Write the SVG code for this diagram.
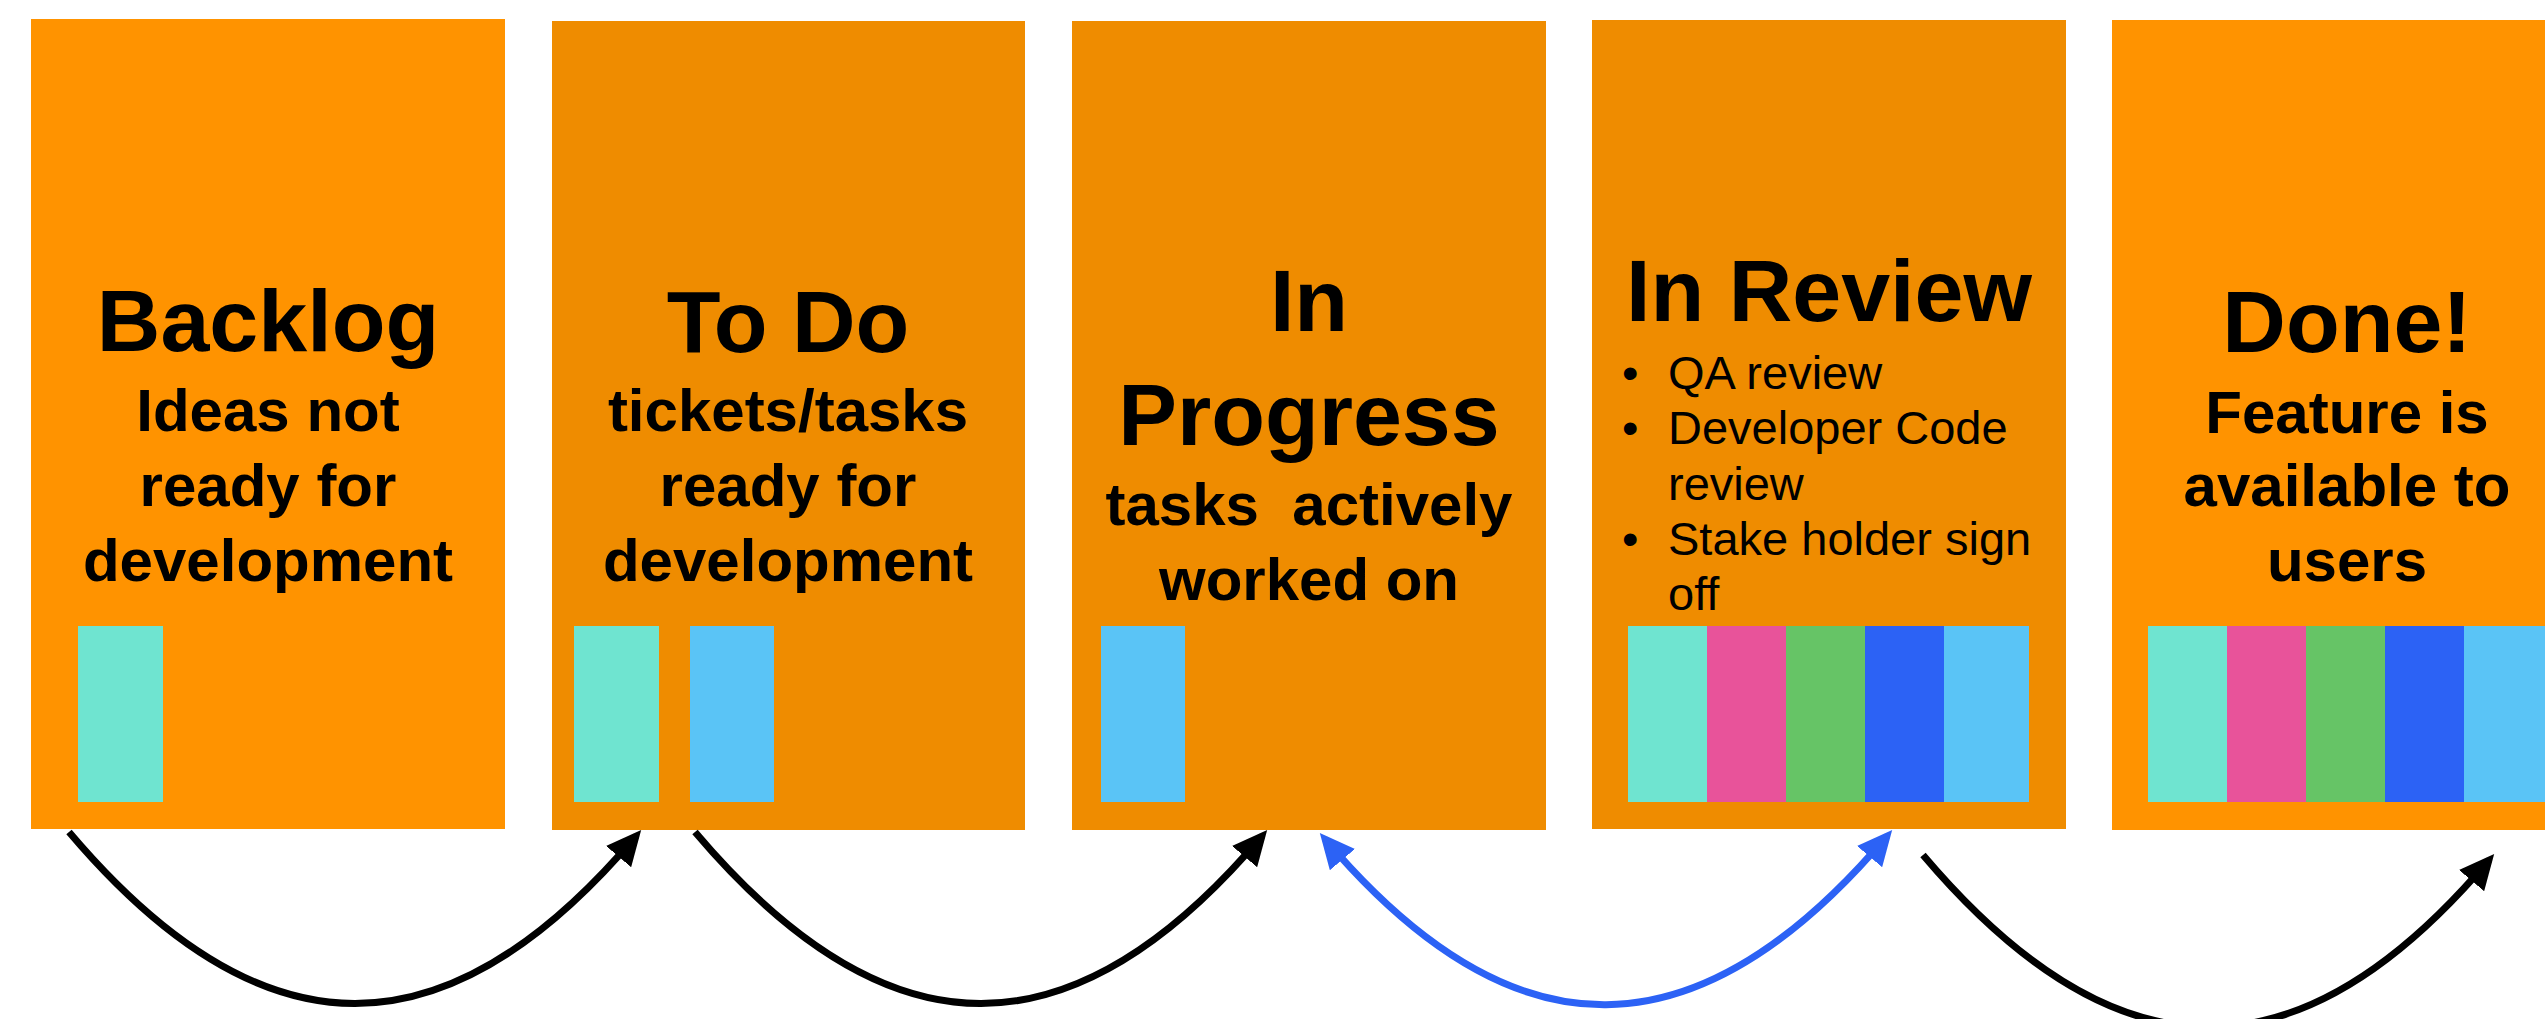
<svg xmlns="http://www.w3.org/2000/svg" width="2545" height="1019" viewBox="0 0 2545 1019">
<style>
.o1{fill:#FF9300}
.o2{fill:#EF8C00}
.teal{fill:#6FE4D0}
.pink{fill:#E8539A}
.green{fill:#66C466}
.blue{fill:#2C62F5}
.lblue{fill:#5AC4F6}
text{font-family:"Liberation Sans",Arial,sans-serif;fill:#000}
.title{font-size:88px;font-weight:bold;text-anchor:middle}
.sub{font-size:60px;font-weight:bold;text-anchor:middle}
.bul{font-size:47px}
.conn{fill:none;stroke-width:7}
</style>
<defs>
<marker id="ahK" markerUnits="userSpaceOnUse" markerWidth="35" markerHeight="33" viewBox="0 0 35 33" refX="27" refY="16.5" orient="auto-start-reverse"><path d="M0,0 L35,16.5 L0,33 z" fill="#000"/></marker>
<marker id="ahB" markerUnits="userSpaceOnUse" markerWidth="35" markerHeight="33" viewBox="0 0 35 33" refX="27" refY="16.5" orient="auto-start-reverse"><path d="M0,0 L35,16.5 L0,33 z" fill="#2C62F5"/></marker>
</defs>
<rect width="2545" height="1019" fill="#fff"/>
<g id="backlog">
<rect class="o1" x="31" y="19" width="474" height="810"/>
<text class="title" x="268" y="351">Backlog</text>
<text class="sub" x="268" y="431">Ideas not</text>
<text class="sub" x="268" y="506">ready for</text>
<text class="sub" x="268" y="581">development</text>
<rect class="teal" x="78" y="626" width="85" height="176"/>
</g>
<g id="todo">
<rect class="o2" x="552" y="21" width="473" height="809"/>
<text class="title" x="788" y="352">To Do</text>
<text class="sub" x="788" y="431">tickets/tasks</text>
<text class="sub" x="788" y="506">ready for</text>
<text class="sub" x="788" y="581">development</text>
<rect class="teal" x="574" y="626" width="85" height="176"/>
<rect class="lblue" x="690" y="626" width="84" height="176"/>
</g>
<g id="inprogress">
<rect class="o2" x="1072" y="21" width="474" height="809"/>
<text class="title" x="1309" y="331">In</text>
<text class="title" x="1309" y="445">Progress</text>
<text class="sub" x="1309" y="525" xml:space="preserve">tasks  actively</text>
<text class="sub" x="1309" y="600">worked on</text>
<rect class="lblue" x="1101" y="626" width="84" height="176"/>
</g>
<g id="inreview">
<rect class="o2" x="1592" y="20" width="474" height="809"/>
<text class="title" x="1829" y="321">In Review</text>
<text class="bul" x="1622" y="389">•</text>
<text class="bul" x="1668" y="389">QA review</text>
<text class="bul" x="1622" y="444">•</text>
<text class="bul" x="1668" y="444">Developer Code</text>
<text class="bul" x="1668" y="500">review</text>
<text class="bul" x="1622" y="555">•</text>
<text class="bul" x="1668" y="555">Stake holder sign</text>
<text class="bul" x="1668" y="610">off</text>
<rect class="teal" x="1628" y="626" width="79" height="176"/>
<rect class="pink" x="1707" y="626" width="79" height="176"/>
<rect class="green" x="1786" y="626" width="79" height="176"/>
<rect class="blue" x="1865" y="626" width="79" height="176"/>
<rect class="lblue" x="1944" y="626" width="85" height="176"/>
</g>
<g id="done">
<rect class="o1" x="2112" y="20" width="472" height="810"/>
<text class="title" x="2347" y="352">Done!</text>
<text class="sub" x="2347" y="433">Feature is</text>
<text class="sub" x="2347" y="506">available to</text>
<text class="sub" x="2347" y="581">users</text>
<rect class="teal" x="2148" y="626" width="79" height="176"/>
<rect class="pink" x="2227" y="626" width="79" height="176"/>
<rect class="green" x="2306" y="626" width="79" height="176"/>
<rect class="blue" x="2385" y="626" width="79" height="176"/>
<rect class="lblue" x="2464" y="626" width="85" height="176"/>
</g>
<g id="connectors">
<path class="conn" stroke="#000" d="M69,832 C263,1061 447,1059 636,836" marker-end="url(#ahK)"/>
<path class="conn" stroke="#000" d="M695,832 C889,1061 1073,1059 1262,836" marker-end="url(#ahK)"/>
<path class="conn" stroke="#2C62F5" d="M1325,839 C1514,1062 1698,1059 1887,836" marker-start="url(#ahB)" marker-end="url(#ahB)"/>
<path class="conn" stroke="#000" d="M1923,855 C2117,1084 2300,1083 2489,860" marker-end="url(#ahK)"/>
</g>
</svg>
